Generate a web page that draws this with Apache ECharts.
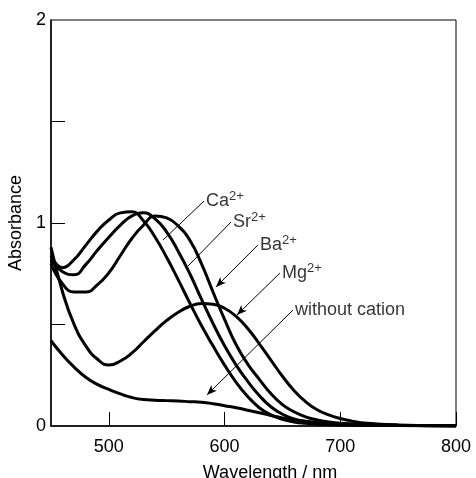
<!DOCTYPE html>
<html>
<head>
<meta charset="utf-8">
<script src="https://cdn.jsdelivr.net/npm/echarts@6/dist/echarts.min.js"></script>
<style>
  html, body { margin: 0; padding: 0; background: #fff; }
  #chart { width: 476px; height: 478px; }
</style>
</head>
<body>
<div id="chart"></div>
<script>
// absorbance spectra, [wavelength nm, absorbance]
const caData = [[450,0.84],[460,0.78],[470,0.82],[480,0.89],[490,0.96],[500,1.015],[510,1.05],[520,1.055],[530,1.01],[540,0.93],[550,0.83],[560,0.72],[570,0.605],[580,0.495],[590,0.395],[600,0.30],[610,0.215],[620,0.145],[630,0.09],[640,0.055],[650,0.033],[660,0.02],[670,0.013],[680,0.009],[690,0.007],[700,0.005],[720,0.003],[750,0.002],[800,0]];
const srData = [[450,0.82],[460,0.76],[470,0.745],[480,0.795],[490,0.865],[500,0.93],[510,0.99],[520,1.035],[530,1.05],[540,1.02],[550,0.955],[560,0.86],[570,0.75],[580,0.625],[590,0.505],[600,0.395],[610,0.30],[620,0.22],[630,0.15],[640,0.095],[650,0.058],[660,0.035],[670,0.022],[680,0.015],[690,0.011],[700,0.008],[720,0.005],[750,0.003],[800,0]];
const baData = [[450,0.80],[460,0.70],[470,0.66],[480,0.66],[490,0.695],[500,0.755],[510,0.84],[520,0.925],[530,0.99],[540,1.035],[550,1.025],[560,0.985],[570,0.915],[580,0.80],[590,0.66],[600,0.525],[610,0.40],[620,0.305],[630,0.23],[640,0.16],[650,0.105],[660,0.07],[670,0.045],[680,0.03],[690,0.02],[700,0.014],[720,0.008],[750,0.004],[800,0]];
const mgData = [[450,0.88],[460,0.66],[470,0.50],[480,0.395],[490,0.33],[500,0.30],[510,0.32],[520,0.36],[530,0.415],[540,0.47],[550,0.52],[560,0.56],[570,0.59],[580,0.603],[590,0.60],[600,0.58],[610,0.54],[620,0.48],[630,0.405],[640,0.325],[650,0.245],[660,0.175],[670,0.12],[680,0.08],[690,0.055],[700,0.037],[710,0.024],[720,0.015],[750,0.005],[800,0]];
const noneData = [[450,0.42],[460,0.35],[470,0.29],[480,0.24],[490,0.205],[500,0.18],[510,0.158],[520,0.14],[530,0.13],[540,0.127],[550,0.125],[560,0.123],[570,0.12],[580,0.117],[590,0.11],[600,0.10],[610,0.09],[620,0.078],[630,0.065],[640,0.052],[650,0.04],[660,0.03],[670,0.023],[680,0.018],[690,0.014],[700,0.011],[720,0.007],[750,0.004],[800,0]];

const xTicks = [500, 600, 700, 800];
const yTicks = [0.5, 1, 1.5];
const yLabels = [0, 1, 2];

// annotation labels and their leader lines (start at label, end near curve)
const labelNames = ["Ca", "Sr", "Ba", "Mg", "without cation"];
const labelSups = ["2+", "2+", "2+", "2+", ""];
const leaderStart = [[582.2,1.108],[605.6,1.005],[628.9,0.892],[647.9,0.754],[659.1,0.571]];
const leaderEnd = [[546.8,0.916],[568.4,0.788],[592.6,0.685],[610.7,0.547],[584.8,0.153]];
const leaderArrow = [false, false, true, true, true];

const font = "Liberation Sans, Arial, sans-serif";
const chart = echarts.init(document.getElementById("chart"));

function curve(name, data) {
  return {
    name: name,
    type: "line",
    data: data,
    smooth: 0.5,
    symbol: "none",
    lineStyle: { color: "#000", width: 3 },
    z: 3
  };
}

const leaders = labelNames.map((n, i) => [
  { coord: leaderStart[i], symbol: "none" },
  { coord: leaderEnd[i], symbol: leaderArrow[i] ? "arrow" : "none" }
]);

const option = {
  animation: false,
  grid: {
    left: 51, right: 20, top: 20, bottom: 52,
    outerBoundsMode: "none",
    containLabel: false,
    show: true, borderColor: "#000", borderWidth: 1
  },
  xAxis: {
    type: "value",
    min: 450, max: 800,
    name: "Wavelength / nm",
    nameLocation: "middle",
    nameGap: 38,
    nameTextStyle: { fontFamily: font, fontSize: 18, color: "#000", padding: [0, 0, 0, 33] },
    axisLine: { show: true, lineStyle: { color: "#000", width: 1.5 } },
    axisTick: { show: true, inside: true, length: 14, customValues: xTicks, lineStyle: { color: "#000" } },
    axisLabel: { customValues: xTicks, margin: 12, fontFamily: font, fontSize: 18, color: "#000" },
    splitLine: { show: false }
  },
  yAxis: {
    type: "value",
    min: 0, max: 2,
    name: "Absorbance",
    nameLocation: "middle",
    nameGap: 23,
    nameTextStyle: { fontFamily: font, fontSize: 18, color: "#000" },
    axisLine: { show: true, lineStyle: { color: "#000", width: 1.5 } },
    axisTick: { show: true, inside: true, length: 14, customValues: yTicks, lineStyle: { color: "#000" } },
    axisLabel: { customValues: yLabels, margin: 5, fontFamily: font, fontSize: 18, color: "#000" },
    splitLine: { show: false }
  },
  series: [
    curve("Ca", caData),
    curve("Sr", srData),
    curve("Ba", baData),
    curve("Mg", mgData),
    Object.assign(curve("without cation", noneData), {
      markLine: {
        silent: true,
        symbol: "none",
        symbolSize: [6, 10],
        label: { show: false },
        lineStyle: { color: "#000", width: 1, type: "solid" },
        data: leaders
      }
    }),
    {
      name: "labels",
      type: "scatter",
      data: leaderStart.map((p, i) => ({ value: p, name: labelNames[i] })),
      symbolSize: 0,
      label: {
        show: true,
        position: "right",
        distance: 2,
        color: "#000",
        formatter: (p) => {
          const s = labelSups[p.dataIndex];
          return "{b|" + p.name + "}" + (s ? "{s|" + s + "}" : "");
        },
        rich: {
          b: { fontFamily: font, fontSize: 18, color: "#000", lineHeight: 22 },
          s: { fontFamily: font, fontSize: 13, color: "#000", verticalAlign: "top", lineHeight: 22 }
        }
      },
      z: 5
    }
  ]
};

chart.setOption(option);
</script>
</body>
</html>
